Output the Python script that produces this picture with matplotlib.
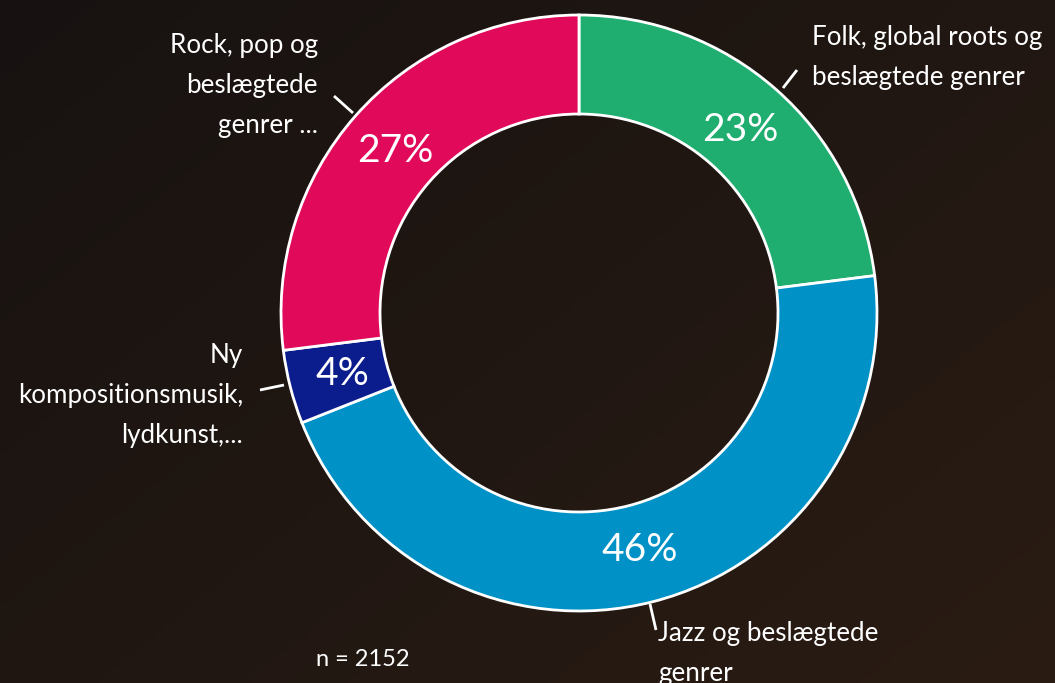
import numpy as np
import matplotlib
matplotlib.use("Agg")
import matplotlib.pyplot as plt

categories = ["Folk, global roots og\nbeslægtede genrer",
              "Jazz og beslægtede\ngenrer",
              "Ny\nkompositionsmusik,\nlydkunst,...",
              "Rock, pop og\nbeslægtede\ngenrer ..."]
values = [23, 46, 4, 27]
colors = ["#1fae6f", "#0091c7", "#0b1c8c", "#e0095a"]
n_text = "n = 2152"

W, H = 1055, 683
fig = plt.figure(figsize=(W / 100, H / 100), dpi=100)

# background gradient
bg = fig.add_axes([0, 0, 1, 1], zorder=0)
yy, xx = np.mgrid[1:0:200j, 0:1:300j]
t = np.clip(0.55 * xx + 0.45 * (1 - yy), 0, 1)
c0 = np.array([0x17, 0x12, 0x11]) / 255
c1 = np.array([0x2a, 0x1c, 0x13]) / 255
img = c0[None, None, :] * (1 - t[..., None]) + c1[None, None, :] * t[..., None]
bg.imshow(img, aspect="auto", extent=[0, 1, 0, 1], origin="upper")
bg.axis("off")

ax = fig.add_axes([0, 0, 1, 1], zorder=1)
ax.patch.set_alpha(0)

cx, cy = 579, H - 313
R = 298
width = 99

font = "Lato"
wedges, _, autotexts = ax.pie(values, colors=colors, startangle=90, counterclock=False,
                              center=(cx, cy), radius=R, autopct="%d%%", pctdistance=0.82,
                              wedgeprops=dict(width=width, edgecolor="white", linewidth=2),
                              textprops=dict(color="white", fontsize=28, family=font))

ax.set_xlim(0, W)
ax.set_ylim(0, H)
ax.set_aspect("equal")
ax.axis("off")

# labels and leader lines (pixel coordinates, y from top)
label_specs = [
    dict(x=812, y=57, ha="left", line=[(797, 70), (783, 88)]),
    dict(x=658, y=653, ha="left", line=[(650, 604), (656, 630)]),
    dict(x=243, y=396, ha="right", line=[(260, 390), (284, 385)]),
    dict(x=318, y=86, ha="right", line=[(334, 96), (353, 113)]),
]
for cat, spec in zip(categories, label_specs):
    ax.text(spec["x"], H - spec["y"], cat, ha=spec["ha"], va="center", color="white",
            fontsize=18.7, family=font, linespacing=1.75, multialignment=spec["ha"])
    (x0, y0), (x1, y1) = spec["line"]
    ax.plot([x0, x1], [H - y0, H - y1], color="white", lw=2, solid_capstyle="butt")

ax.text(363, H - 660, n_text, ha="center", va="center", color="white", fontsize=17, family=font)

fig.savefig("out.png", dpi=100, facecolor="#1a1412")
